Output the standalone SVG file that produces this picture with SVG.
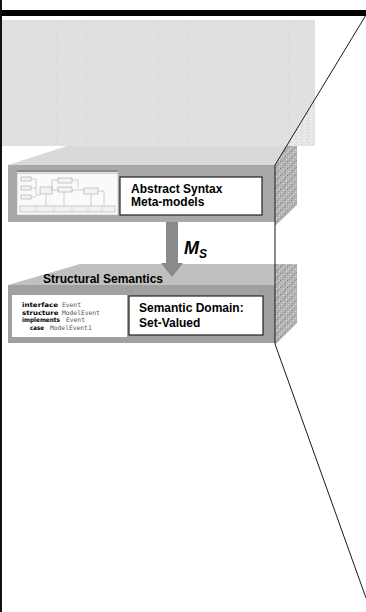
<svg xmlns="http://www.w3.org/2000/svg" width="366" height="612" viewBox="0 0 366 612">
<defs>
<pattern id="speckDark" width="7" height="7" patternUnits="userSpaceOnUse">
<rect width="7" height="7" fill="#b4b4b4"/>
<rect x="0" y="0" width="1" height="1" fill="#7a7a7a"/>
<rect x="3" y="1" width="1" height="1" fill="#e0e0e0"/>
<rect x="5" y="2" width="1" height="1" fill="#888"/>
<rect x="1" y="3" width="1" height="1" fill="#d8d8d8"/>
<rect x="4" y="4" width="1" height="1" fill="#808080"/>
<rect x="6" y="5" width="1" height="1" fill="#dcdcdc"/>
<rect x="2" y="6" width="1" height="1" fill="#909090"/>
<rect x="6" y="0" width="1" height="1" fill="#d0d0d0"/>
</pattern>
<pattern id="speckLight" width="6" height="6" patternUnits="userSpaceOnUse">
<rect width="6" height="6" fill="#e6e6e6"/>
<rect x="1" y="0" width="1" height="1" fill="#cfcfcf"/>
<rect x="4" y="2" width="1" height="1" fill="#f4f4f4"/>
<rect x="2" y="4" width="1" height="1" fill="#d2d2d2"/>
<rect x="5" y="5" width="1" height="1" fill="#f6f6f6"/>
</pattern>
<style>
.lbl{font-family:"Liberation Sans",Arial,sans-serif;font-weight:bold;font-size:12px;fill:#000}
.box{fill:#fff;stroke:#222;stroke-width:1.2}
.kw{font-family:"DejaVu Sans",sans-serif;font-weight:900;font-size:6.3px;fill:#000}
.mono{font-family:"DejaVu Sans Mono","Liberation Mono",monospace;font-size:6.3px;fill:#555}
.dot{stroke:#cdcdcd;stroke-width:0.6;stroke-dasharray:2 3}
.thumb{fill:#f2f2f2;stroke:#9a9a9a;stroke-width:0.5}
</style>
</defs>
<rect width="366" height="612" fill="#fff"/>

<g id="background">
<rect x="2" y="20" width="313" height="126" fill="#e0e0e0"/>
<line class="dot" x1="57" y1="22" x2="57" y2="144"/>
<line class="dot" x1="86" y1="22" x2="86" y2="144"/>
<line class="dot" x1="158" y1="22" x2="158" y2="144"/>
<line class="dot" x1="187" y1="22" x2="187" y2="144"/>
<line class="dot" x1="289" y1="22" x2="289" y2="144"/>
<polygon points="315,98 315,146 286.5,146" fill="url(#speckLight)"/>
<rect x="0" y="10" width="366" height="6" fill="#000"/>
<rect x="0" y="0" width="2" height="612" fill="#111"/>
</g>

<g id="abstract-syntax">
<polygon points="67,146 286.5,146 275,165 8,165" fill="#d9d9d9"/>
<polygon points="286.5,146 297,146 297,205 275,226 275,165" fill="url(#speckDark)"/>
<rect x="8" y="165" width="267" height="57" fill="#a8a8a8"/>
<g id="thumbnail">
<rect x="17" y="170" width="101" height="45" fill="#fafafa" stroke="#b0b0b0" stroke-width="0.6"/>
<rect x="17" y="170" width="101" height="2" fill="#8a8a8a"/>
<rect x="17" y="172.5" width="101" height="1.5" fill="#d0d0d0"/>
<rect class="thumb" x="21" y="177" width="10" height="4"/>
<rect class="thumb" x="21" y="186" width="10" height="4"/>
<rect class="thumb" x="21" y="195" width="10" height="4"/>
<rect class="thumb" x="40" y="187" width="12" height="7"/>
<rect class="thumb" x="58" y="178" width="14" height="5"/>
<rect class="thumb" x="58" y="187" width="14" height="5"/>
<rect class="thumb" x="84" y="188" width="14" height="6"/>
<rect class="thumb" x="20" y="206" width="95" height="6"/>
<path d="M31 179H36V195H40M31 188H36M31 197H36M52 190H58M52 190V180H58M72 190H84M72 180H78V188M46 194V206M64 192V206M91 194V206M104 196V206M98 191H104V196" fill="none" stroke="#a0a0a0" stroke-width="0.5"/>
<path d="M36 206V212M54 206V212M72 206V212M88 206V212M102 206V212" stroke="#c0c0c0" stroke-width="0.5"/>
</g>
<rect class="box" x="120" y="177" width="142" height="38"/>
<text class="lbl" x="131" y="193">Abstract Syntax</text>
<text class="lbl" x="131" y="206">Meta-models</text>
</g>

<g id="structural-semantics">
<polygon points="80,264 275,264 275,285 8,285" fill="#c0c0c0"/>
<polygon points="275,264 297,264 297,323 275,345" fill="url(#speckDark)"/>
<rect x="8" y="285" width="267" height="58" fill="#a0a0a0"/>
<text class="lbl" x="43" y="283">Structural Semantics</text>
<rect x="12" y="295" width="115" height="42" fill="#fff"/>
<text class="kw" x="22" y="307" textLength="36" lengthAdjust="spacingAndGlyphs">interface</text>
<text class="mono" x="62" y="307">Event</text>
<text class="kw" x="22" y="314.5" textLength="36.5" lengthAdjust="spacingAndGlyphs">structure</text>
<text class="mono" x="62" y="314.5">ModelEvent</text>
<text class="kw" x="22" y="322" textLength="38" lengthAdjust="spacingAndGlyphs">implements</text>
<text class="mono" x="66" y="322">Event</text>
<text class="kw" x="30" y="329.5" textLength="14" lengthAdjust="spacingAndGlyphs">case</text>
<text class="mono" x="50" y="329.5">ModelEvent1</text>
<rect class="box" x="129" y="296" width="134" height="39"/>
<text class="lbl" x="139" y="312">Semantic Domain:</text>
<text class="lbl" x="139" y="327">Set-Valued</text>
</g>

<g id="connectors">
<polygon points="166,222 178,222 178,263 183,263 172,277 161,263 166,263" fill="#8a8a8a"/>
<text x="184" y="254" font-family="Liberation Sans,Arial,sans-serif" font-weight="bold" font-style="italic" font-size="18" fill="#000">M<tspan font-size="12" dy="4">S</tspan></text>
<polyline points="366,15 275,165 275,344 366,598" fill="none" stroke="#1a1a1a" stroke-width="1"/>
</g>
</svg>
